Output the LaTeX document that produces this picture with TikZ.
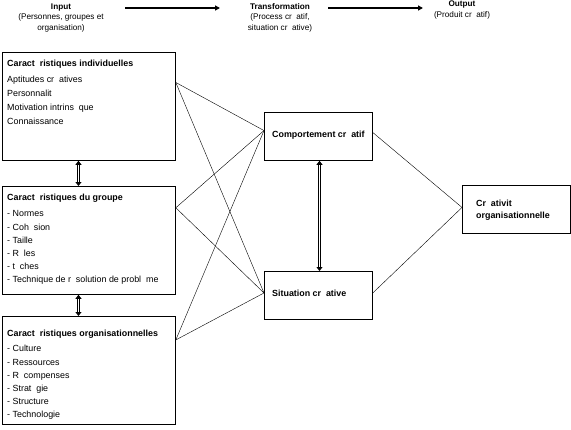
\documentclass[tikz,border=0pt]{standalone}
\usepackage{fontspec}
\setmainfont{Liberation Sans}
\usetikzlibrary{arrows.meta,calc}
\newcommand\gp{\hspace{0.55em}}
\begin{document}
\begin{tikzpicture}[x=1pt,y=-1pt,
  box/.style={draw,line width=0.8pt,rectangle,inner sep=0pt,anchor=north west},
  ttl/.style={font=\bfseries\fontsize{8.9}{10}\selectfont,anchor=base west,inner sep=0pt},
  itm/.style={font=\fontsize{8.9}{10}\selectfont,anchor=base west,inner sep=0pt},
  hd/.style={font=\bfseries\fontsize{8.2}{9}\selectfont,anchor=base,inner sep=0pt},
  sub/.style={font=\fontsize{8.2}{9}\selectfont,anchor=base,inner sep=0pt},
  link/.style={line width=0.4pt},
  flow/.style={line width=1.6pt,-{Triangle[length=5pt,width=5pt]}},
  dbl/.style={draw=black,line width=0.9pt,double=white,double distance=1.5pt,
    {Triangle[length=4pt,width=6pt]}-{Triangle[length=4pt,width=6pt]}}]
\useasboundingbox (0,0) rectangle (571,429);
% header
\node[hd] (in) at (61,9) {Input};
\node[sub] (in1) at (61,19.5) {(Personnes, groupes et};
\node[sub] (in2) at (61,30.5) {organisation)};
\node[hd] (tr) at (280,9.5) {Transformation};
\node[sub] (tr1) at (280,19.5) {(Process cr\gp atif,};
\node[sub] (tr2) at (280,30.5) {situation cr\gp ative)};
\node[hd] (out) at (462,6.5) {Output};
\node[sub] (out1) at (462,17) {(Produit cr\gp atif)};
\coordinate (a1s) at (125,8);
\coordinate (a1e) at (220,8);
\coordinate (a2s) at (328,8);
\coordinate (a2e) at (423,8);
\draw[flow] (a1s) -- (a1e);
\draw[flow] (a2s) -- (a2e);
% left boxes
\node[box,minimum width=173pt,minimum height=108pt] (b1) at (2,52) {};
\node[box,minimum width=173pt,minimum height=108pt] (b2) at (2,186) {};
\node[box,minimum width=173pt,minimum height=108pt] (b3) at (2,316) {};
\node[ttl] (b1t) at (7,66.5) {Caract\gp ristiques individuelles};
\node[itm] (b1a) at (7,82.5) {Aptitudes cr\gp atives};
\node[itm] (b1b) at (7,96.5) {Personnalit};
\node[itm] (b1c) at (7,110.5) {Motivation intrins\gp que};
\node[itm] (b1d) at (7,124) {Connaissance};
\node[ttl] (b2t) at (7,200.5) {Caract\gp ristiques du groupe};
\node[itm] (b2a) at (7,216.5) {- Normes};
\node[itm] (b2b) at (7,230) {- Coh\gp sion};
\node[itm] (b2c) at (7,243.5) {- Taille};
\node[itm] (b2d) at (7,256.5) {- R\gp les};
\node[itm] (b2e) at (7,269.5) {- t\gp ches};
\node[itm] (b2f) at (7,282.5) {- Technique de r\gp solution de probl\gp me};
\node[ttl] (b3t) at (7,336.5) {Caract\gp ristiques organisationnelles};
\node[itm] (b3a) at (7,351.5) {- Culture};
\node[itm] (b3b) at (7,365) {- Ressources};
\node[itm] (b3c) at (7,378.5) {- R\gp compenses};
\node[itm] (b3d) at (7,391.5) {- Strat\gp gie};
\node[itm] (b3e) at (7,404.5) {- Structure};
\node[itm] (b3f) at (7,417) {- Technologie};
% centre boxes
\node[box,minimum width=108pt,minimum height=48pt] (cc) at (264,112) {};
\node[box,minimum width=108pt,minimum height=48pt] (sc) at (264,271) {};
\node[box,minimum width=108pt,minimum height=48pt] (oc) at (462,185) {};
\node[ttl] (cct) at (272,137.5) {Comportement cr\gp atif};
\node[ttl] (sct) at (272,296) {Situation cr\gp ative};
\node[ttl] (oct1) at (476,206.5) {Cr\gp ativit};
\node[ttl] (oct2) at (476,218.5) {organisationnelle};
% attachment points
\coordinate (p1) at ($(b1.north east)!0.28!(b1.south east)$);
\coordinate (p2) at ($(b2.north east)!0.2!(b2.south east)$);
\coordinate (p3) at ($(b3.north east)!0.22!(b3.south east)$);
\coordinate (cl) at ($(cc.north west)!0.38!(cc.south west)$);
\coordinate (sl) at ($(sc.north west)!0.45!(sc.south west)$);
\coordinate (cr) at ($(cc.north east)!0.42!(cc.south east)$);
\coordinate (sr) at ($(sc.north east)!0.45!(sc.south east)$);
\coordinate (ol) at ($(oc.north west)!0.46!(oc.south west)$);
\foreach \p in {p1,p2,p3} {
  \draw[link] (\p) -- (cl);
  \draw[link] (\p) -- (sl);
}
\draw[link] (cr) -- (ol);
\draw[link] (sr) -- (ol);
% double arrows
\draw[dbl] ($(b1.south west)!0.44!(b1.south east)$) -- ($(b2.north west)!0.44!(b2.north east)$);
\draw[dbl] ($(b2.south west)!0.44!(b2.south east)$) -- ($(b3.north west)!0.44!(b3.north east)$);
\draw[dbl] ($(cc.south west)!0.51!(cc.south east)$) -- ($(sc.north west)!0.51!(sc.north east)$);
\end{tikzpicture}
\end{document}
